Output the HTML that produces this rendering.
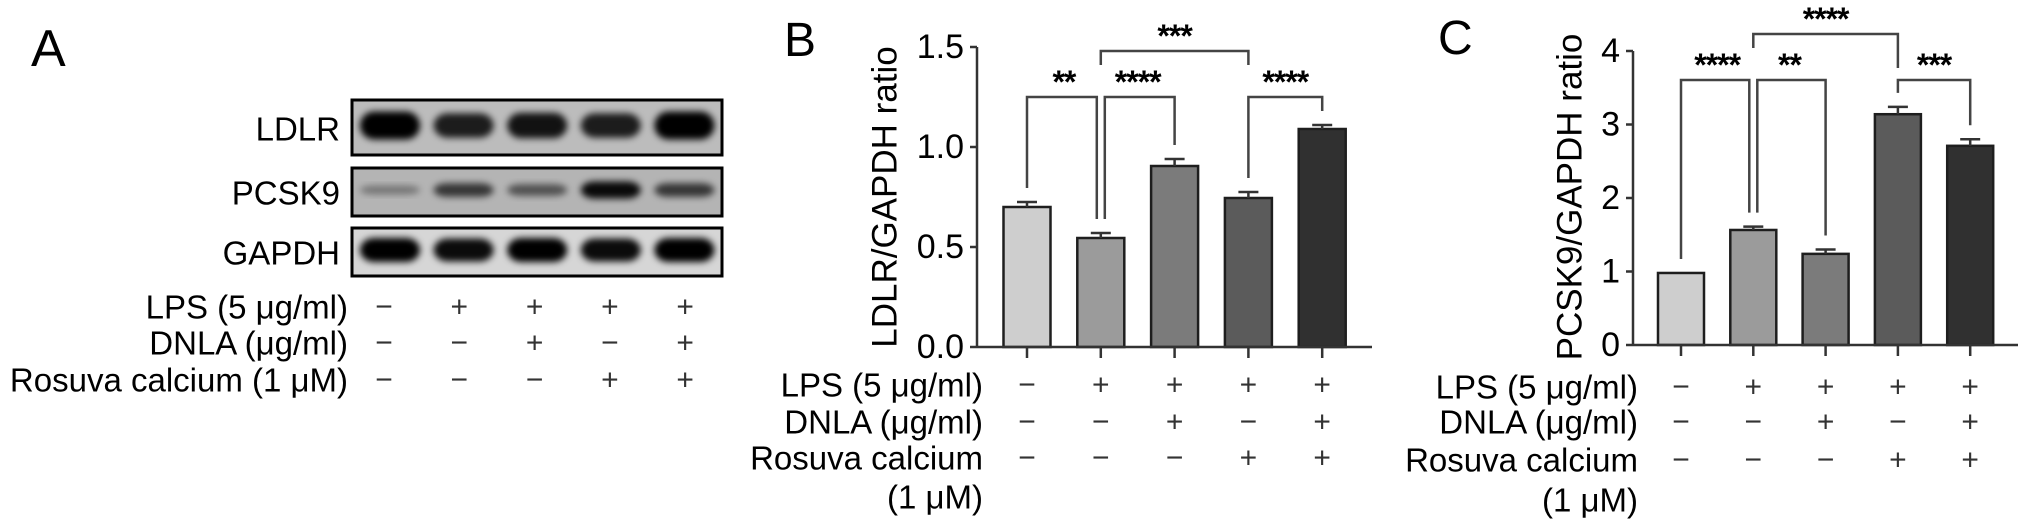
<!DOCTYPE html>
<html><head><meta charset="utf-8"><style>
html,body{margin:0;padding:0;background:#fff;}
svg{display:block;font-family:"Liberation Sans",Arial,sans-serif;}
</style></head><body>
<svg id="fig" width="2032" height="529" viewBox="0 0 2032 529" xmlns="http://www.w3.org/2000/svg">
<defs>
<filter id="blur" x="-20%" y="-50%" width="140%" height="200%"><feGaussianBlur stdDeviation="3.5"/></filter>
</defs>
<text x="31" y="66" font-size="52">A</text>
<text x="784" y="56" font-size="48">B</text>
<text x="1438" y="54" font-size="48">C</text>

<g>
 <text x="340" y="129" font-size="33" text-anchor="end" dominant-baseline="central">LDLR</text>
 <text x="340" y="193" font-size="33" text-anchor="end" dominant-baseline="central">PCSK9</text>
 <text x="340" y="253" font-size="33" text-anchor="end" dominant-baseline="central">GAPDH</text>
 <g id="blots"></g>
</g>
<g id="condA"></g>
<g id="chartB"></g>
<g id="chartC"></g>
</svg>
<script>
// ---- data ----
const groups = ["Control","LPS","LPS+DNLA","LPS+Rosuva","LPS+DNLA+Rosuva"];
const lpsRow = ["−","+","+","+","+"];
const dnlaRow = ["−","−","+","−","+"];
const rosuRow = ["−","−","−","+","+"];
const ldlrMean = [0.70, 0.545, 0.905, 0.745, 1.09];
const ldlrErr = [0.025, 0.025, 0.035, 0.03, 0.02];
const pcskMean = [0.98, 1.565, 1.24, 3.14, 2.71];
const pcskErr = [0, 0.045, 0.06, 0.10, 0.09];
const ldlrTicks = ["0.0","0.5","1.0","1.5"];
const pcskTicks = ["0","1","2","3","4"];
const ldlrSig = [[0,1,"**",0],[1,2,"****",0],[3,4,"****",0],[1,3,"***",1]];
const pcskSig = [[0,1,"****",0],[1,2,"**",0],[3,4,"***",0],[1,3,"****",1]];
const barFill = ["#cecece","#9b9b9b","#7b7b7b","#5b5b5b","#303030"];
const ldlrBand = [1,0.85,0.9,0.85,1];
const pcskBand = [0.35,0.7,0.55,0.95,0.7];
const gapdhBand = [1,0.95,1,0.95,1];

const NS="http://www.w3.org/2000/svg";
function mk(tag,attrs,parent){const e=document.createElementNS(NS,tag);for(const k in attrs)e.setAttribute(k,attrs[k]);parent.appendChild(e);return e;}

// ---- blots ----
const blots=document.getElementById('blots');
const laneX=i=>390+i*73.6;
const blotRows=[{y:100,h:55,bg:"#bcbcbc",vals:ldlrBand,bh:12,name:"ldlr-blot"},{y:168,h:48,bg:"#b4b4b4",vals:pcskBand,bh:7,name:"pcsk9-blot"},{y:228,h:48,bg:"#d6d6d6",vals:gapdhBand,bh:10,name:"gapdh-blot"}];
blotRows.forEach(r=>{
 const g=mk('g',{},blots);
 
 
 mk('rect',{x:352,y:r.y,width:370,height:r.h,fill:r.bg},g);
 r.vals.forEach((v,i)=>{
  const b=mk('rect',{x:laneX(i)-30,y:r.y+r.h/2-2-(r.bh*v+2),width:60,height:2*(r.bh*v+2),rx:14,fill:"#000","fill-opacity":Math.min(1,v),filter:"url(#blur)"},g);
  
  
 });
 mk('rect',{x:352,y:r.y,width:370,height:r.h,fill:"none",stroke:"#000","stroke-width":3},g);
});

function condRows(parent,labels,rightX,rowYs,colX){
 labels.forEach((l,k)=>{
  const t=mk('text',{x:rightX,y:rowYs[k],"font-size":33,"text-anchor":"end","dominant-baseline":"central"},parent);
  t.textContent=l;
  
  
 });
 [lpsRow,dnlaRow,rosuRow].forEach((row,k)=>{
  row.forEach((s,i)=>{
   const t=mk('text',{x:colX(i),y:rowYs[k],"font-size":30,"text-anchor":"middle","dominant-baseline":"central",fill:"#333"},parent);
   t.textContent=s;
   
   
  });
 });
}
condRows(document.getElementById('condA'),["LPS (5 μg/ml)","DNLA (μg/ml)","Rosuva calcium (1 μM)"],348,[307,343,380],i=>384+i*75.3);

function chart(parent,o){
 const y=v=>o.base-(v/o.max)*(o.base-o.top);
 const x=i=>o.x0+i*o.step;
 mk('line',{x1:o.ax,y1:y(o.max),x2:o.ax,y2:o.base,stroke:"#333","stroke-width":2.5},parent);
 o.ticks.forEach((t,k)=>{
  const v=o.max*k/(o.ticks.length-1);
  mk('line',{x1:o.ax-7,y1:y(v),x2:o.ax,y2:y(v),stroke:"#333","stroke-width":2.5},parent);
  const tx=mk('text',{x:o.ax-13,y:y(v),"font-size":34,"text-anchor":"end","dominant-baseline":"central"},parent);
  tx.textContent=t;
  
  
 });
 const yt=mk('text',{x:o.titleX,y:o.titleY,"font-size":35,"text-anchor":"middle","dominant-baseline":"central",transform:`rotate(-90 ${o.titleX} ${o.titleY})`},parent);
 yt.textContent=o.title;
 
 
 o.mean.forEach((m,i)=>{
  const cx=x(i);
  const r=mk('rect',{x:cx-o.bw/2,y:y(m),width:o.bw,height:o.base-y(m),fill:barFill[i],stroke:"#1e1e1e","stroke-width":2.5},parent);
  
  
  if(o.err[i]>0){
   const e=mk('path',{d:`M${cx} ${y(m)} V${y(m+o.err[i])} M${cx-10} ${y(m+o.err[i])} H${cx+10}`,stroke:"#333","stroke-width":2.5,fill:"none"},parent);
   
   
  }
  mk('line',{x1:cx,y1:o.base,x2:cx,y2:o.base+11,stroke:"#333","stroke-width":2.5},parent);
 });
 mk('line',{x1:o.ax,y1:o.base,x2:o.xend,y2:o.base,stroke:"#333","stroke-width":2.5},parent);
 o.sig.forEach(s=>{
  const [a,b,lab,lvl]=s;
  const top=lvl?o.brTop2:o.brTop;
  let xa=x(a), xb=x(b);
  if(!lvl){ if(o.sig.some(q=>!q[3]&&q[1]===a)) xa+=4; if(o.sig.some(q=>!q[3]&&q[0]===b)) xb-=4; }
  const ya=lvl?top+14:y(o.mean[a]+o.err[a])-14;
  const yb=lvl?top+(b===3&&o.legC?o.legC:14):y(o.mean[b]+o.err[b])-14;
  const p=mk('path',{d:`M${xa} ${ya} V${top} H${xb} V${yb}`,stroke:"#444","stroke-width":2.5,fill:"none"},parent);
  
  
  const st=mk('text',{x:(x(a)+x(b))/2,y:top-4,"font-size":32,"font-weight":"bold","text-anchor":"middle","letter-spacing":"-1"},parent);
  st.textContent=lab;
  
  
 });
 condRows(parent,["LPS (5 μg/ml)","DNLA (μg/ml)","Rosuva calcium"],o.lblX,o.rows,x);
 const lt=mk('text',{x:o.lblX,y:o.rows[3],"font-size":33,"text-anchor":"end","dominant-baseline":"central"},parent);
 lt.textContent="(1 μM)";
 
 
}
chart(document.getElementById('chartB'),{ax:977,base:347,top:47,max:1.5,x0:1027,step:73.8,bw:47,xend:1372,ticks:ldlrTicks,mean:ldlrMean,err:ldlrErr,sig:ldlrSig,brTop:97,brTop2:51,title:"LDLR/GAPDH ratio",titleX:885,titleY:197,lblX:983,rows:[385,422,458,497]});
chart(document.getElementById('chartC'),{ax:1633,base:345,top:51,max:4,x0:1681,step:72.3,bw:46,xend:2018,ticks:pcskTicks,mean:pcskMean,err:pcskErr,sig:pcskSig,brTop:80,brTop2:34,legC:34,title:"PCSK9/GAPDH ratio",titleX:1570,titleY:197,lblX:1638,rows:[387,422,460,500]});
</script>
</body></html>
